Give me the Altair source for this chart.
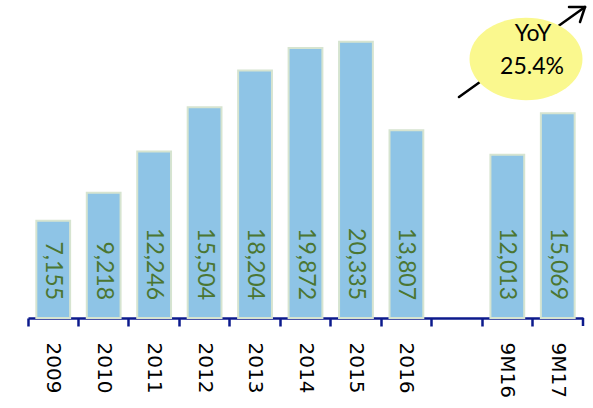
import altair as alt
import pandas as pd

# Annual revenue with the 9-month comparison after a blank gap
categories = ["2009", "2010", "2011", "2012", "2013", "2014", "2015", "2016", " ", "9M16", "9M17"]
bar_labels = ["2009", "2010", "2011", "2012", "2013", "2014", "2015", "2016", "9M16", "9M17"]
bar_values = [7155, 9218, 12246, 15504, 18204, 19872, 20335, 13807, 12013, 15069]
yoy_title = "YoY"
yoy_value = "25.4%"

df = pd.DataFrame({"period": bar_labels, "value": bar_values})
one = pd.DataFrame({"k": [0]})

BAR_FILL = "#8EC4E6"
BAR_EDGE = "#D6E4D0"
LABEL_GREEN = "#4B7632"
NAVY = "#0C1A8C"
W, H = 555, 318

x_scale = alt.Scale(domain=categories, paddingInner=0, paddingOuter=0)
y_scale = alt.Scale(domain=[0, 23400])

x_enc = alt.X(
    "period:N",
    scale=x_scale,
    sort=categories,
    axis=alt.Axis(
        title=None,
        bandPosition=0,
        labelOffset=0,
        labelAngle=90,
        labelAlign="left",
        labelBaseline="middle",
        labelFont="DejaVu Sans",
        labelFontSize=20,
        labelColor="#000000",
        labelPadding=16,
        tickSize=8,
        tickWidth=2.5,
        tickColor=NAVY,
        domainColor=NAVY,
        domainWidth=2.5,
        grid=False,
    ),
)

bars = alt.Chart(df).mark_bar(
    width=alt.RelativeBandSize(0.67),
    fill=BAR_FILL,
    stroke=BAR_EDGE,
    strokeWidth=2,
).encode(
    x=x_enc,
    y=alt.Y("value:Q", scale=y_scale, axis=None),
)

values_text = alt.Chart(df).mark_text(
    angle=90,
    align="right",
    baseline="middle",
    dx=-18,
    font="Lato",
    fontSize=23,
    color=LABEL_GREEN,
).encode(
    x=alt.X("period:N", scale=x_scale, sort=categories),
    y=alt.Y(datum=0, scale=y_scale),
    text=alt.Text("value:Q", format=","),
)

# closing tick at the right end of the axis
end_tick = alt.Chart(one).mark_rule(color=NAVY, strokeWidth=2.5).encode(
    x=alt.X(datum="9M17", bandPosition=1, scale=x_scale),
    y=alt.Y(datum=0, scale=y_scale),
    y2=alt.value(H + 8),
)

# growth arrow behind the YoY bubble
arrow_style = dict(color="#000000", strokeWidth=2.5, strokeCap="round")
arrow_shaft = alt.Chart(one).mark_rule(**arrow_style).encode(
    x=alt.value(431), y=alt.value(97), x2=alt.value(557), y2=alt.value(7)
)
arrow_wing1 = alt.Chart(one).mark_rule(**arrow_style).encode(
    x=alt.value(541), y=alt.value(7), x2=alt.value(557), y2=alt.value(7)
)
arrow_wing2 = alt.Chart(one).mark_rule(**arrow_style).encode(
    x=alt.value(552), y=alt.value(22), x2=alt.value(557), y2=alt.value(7)
)

ellipse_path = "M -1 0 A 1 0.73 0 1 0 1 0 A 1 0.73 0 1 0 -1 0 Z"
bubble = alt.Chart(one).mark_point(
    shape=ellipse_path,
    filled=True,
    fill="#FAF88E",
    opacity=1,
    strokeWidth=0,
    size=113 * 113,
).encode(x=alt.value(498), y=alt.value(59))

bubble_title = alt.Chart(one).mark_text(
    font="Lato", fontSize=23, color="#000000", baseline="middle", text=yoy_title
).encode(x=alt.value(505), y=alt.value(34))
bubble_value = alt.Chart(one).mark_text(
    font="Lato", fontSize=23, color="#000000", baseline="middle", text=yoy_value
).encode(x=alt.value(504), y=alt.value(67))

chart = alt.layer(
    bars, values_text, end_tick,
    arrow_shaft, arrow_wing1, arrow_wing2,
    bubble, bubble_title, bubble_value,
).properties(
    width=W,
    height=H,
    autosize=alt.AutoSizeParams(type="none"),
    padding={"left": 28, "right": 10, "top": 0, "bottom": 90},
    background="#FFFFFF",
).configure_view(stroke=None)

chart.save("out.html", embed_options={"renderer": "svg", "actions": False})
